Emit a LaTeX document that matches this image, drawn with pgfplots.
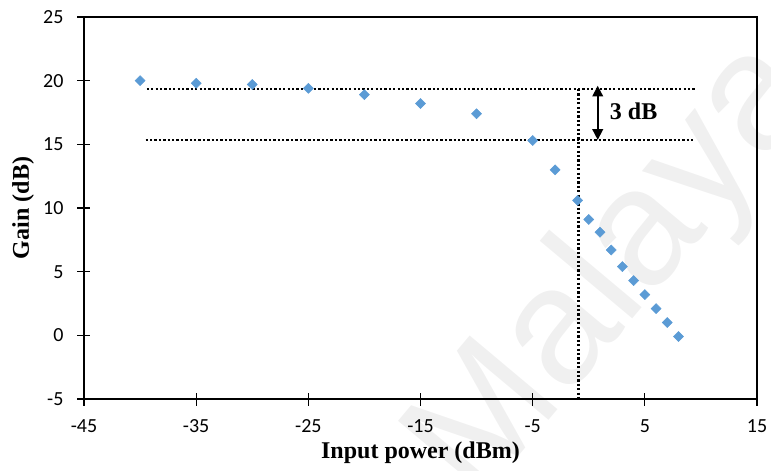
\documentclass[border=0pt]{standalone}
\usepackage{fontspec}
\setmainfont{Carlito}
\newfontfamily\labfont{Liberation Serif}
\newfontfamily\wmfont{Liberation Sans}
\usepackage{pgfplots}
\pgfplotsset{compat=1.18}
\usetikzlibrary{arrows.meta}
\definecolor{pts}{HTML}{5B9BD5}

\begin{document}
\begin{tikzpicture}
% watermark first, so it stays under the axis (axis SW corner sits at the origin)
\node[rotate=50, text=black!6, font=\wmfont\fontsize{125}{130}\selectfont]
  at (399.6pt,95.5pt) {Malaya};
\begin{axis}[
  scale only axis, width=504.75pt, height=286.5pt,
  xmin=-45, xmax=15, ymin=-5, ymax=25,
  xtick={-45,-35,...,15}, ytick={-5,0,...,25},
  tick pos=left, tick align=center, major tick length=9.75pt,
  axis line style={line width=1.5pt},
  major tick style={line width=0.9pt, black},
  tick label style={font=\fontsize{15}{17}\selectfont},
  xticklabel style={yshift=-7pt},
  yticklabel style={xshift=-7pt},
  /pgf/number format/assume math mode=true,
  xlabel={\labfont\bfseries Input power (dBm)},
  ylabel={\labfont\bfseries Gain (dB)},
  label style={font=\fontsize{18}{20}\selectfont},
  clip=false,
  dots/.style={black, line width=1.9pt, dash pattern=on 1.7pt off 1.6pt},
]
\coordinate (O) at (rel axis cs:0,0);

% guide lines
\addplot[dots] coordinates {(-39.4,19.35) (9.6,19.35)};
\addplot[dots] coordinates {(-39.5,15.33) (9.3,15.33)};
\addplot[dots] coordinates {(-0.9,19.35) (-0.9,-5)};

% measured gain
\addplot[only marks, mark=square*, mark size=2.65pt,
  mark options={rotate=45, fill=pts, draw=pts}]
  coordinates {
  (-40,20.0) (-35,19.8) (-30,19.7) (-25,19.4) (-20,18.9)
  (-15,18.2) (-10,17.4) (-5,15.3) (-3,13.0) (-1,10.6)
  (0,9.1) (1,8.1) (2,6.7) (3,5.4) (4,4.3) (5,3.2)
  (6,2.1) (7,1.0) (8,-0.1)
  };

\draw[{Triangle[width=8pt,length=8pt]}-{Triangle[width=8pt,length=8pt]}, line width=1.2pt]
  (axis cs:0.8,19.6) -- (axis cs:0.8,15.35);
\node[font=\labfont\bfseries\fontsize{18}{20}\selectfont] at (axis cs:4.0,17.6) {3 dB};
\end{axis}
\pgfresetboundingbox
\useasboundingbox (O) ++(-63pt,-54pt) rectangle ++(578.25pt,353.25pt);
\end{tikzpicture}
\end{document}
